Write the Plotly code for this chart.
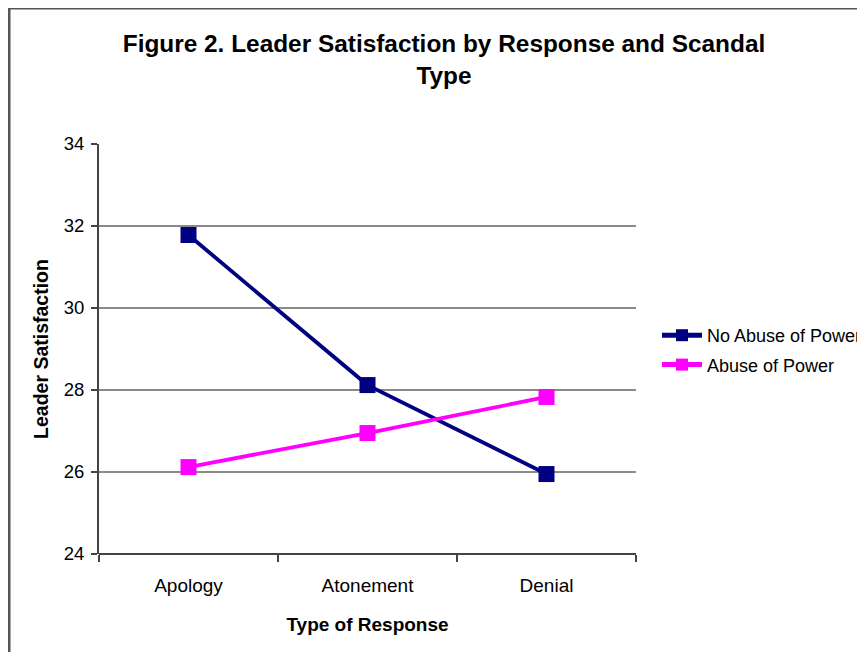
import plotly.graph_objects as go

categories = ["Apology", "Atonement", "Denial"]
no_abuse = [31.78, 28.12, 25.95]
abuse = [26.12, 26.95, 27.83]
y_ticks = [24, 26, 28, 30, 32, 34]

W, H = 865, 652
O = 8  # page body offset
L, R, T, B = 99 - O, 636 - O, 144 - O, 554 - O

font = "Liberation Sans, Arial, sans-serif"

fig = go.Figure()
fig.add_trace(go.Scatter(x=categories, y=no_abuse, mode="lines+markers", name="No Abuse of Power",
                         legendgroup="a",
                         line=dict(color="#000080", width=3.8),
                         marker=dict(symbol="square", size=16, color="#000080")))
fig.add_trace(go.Scatter(x=categories, y=abuse, mode="lines+markers", name="Abuse of Power",
                         legendgroup="b",
                         line=dict(color="#FF00FF", width=3.8),
                         marker=dict(symbol="square", size=16, color="#FF00FF")))

def px_x(p):
    return (p - O - L) / (R - L)

def px_y(p):
    return (B - (p - O)) / (B - T)

fig.update_layout(
    width=W, height=H,
    margin=dict(l=L, r=W - R, t=T, b=H - B, autoexpand=False),
    paper_bgcolor="white", plot_bgcolor="white",
    font=dict(family=font, color="black", size=18),
    title=dict(text="<b>Figure 2. Leader Satisfaction by Response and Scandal<br>Type</b>",
               x=(444 - O) / W, xanchor="center", xref="container",
               y=1 - 44 / H, yanchor="top", yref="container",
               font=dict(size=24.4, family=font, color="black")),
    showlegend=True,
    legend=dict(x=px_x(657), y=px_y(317), xanchor="left", yanchor="top",
                font=dict(size=18, family=font, color="black"),
                bgcolor="rgba(0,0,0,0)", tracegroupgap=3, itemwidth=40,
                itemsizing="constant"),
    xaxis=dict(type="category", categoryorder="array", categoryarray=categories,
               range=[-0.5, 2.5], showgrid=False, showline=False,
               ticks="outside", tickson="boundaries", ticklen=7, tickwidth=2, tickcolor="#444",
               ticklabelstandoff=18,
               tickfont=dict(size=19, family=font),
               title=dict(text="<b>Type of Response</b>", font=dict(size=19, family=font), standoff=22),
               zeroline=False),
    yaxis=dict(range=[24, 34], tickvals=y_ticks, showgrid=True, gridcolor="#8a8a8a", gridwidth=2,
               showline=True, linecolor="#444", linewidth=2,
               ticks="outside", ticklen=6, tickwidth=2, tickcolor="#444",
               ticklabelstandoff=3,
               tickfont=dict(size=18.5, family=font),
               title=dict(text="<b>Leader Satisfaction</b>", font=dict(size=19.5, family=font), standoff=10),
               zeroline=False),
)

# bottom axis line (24 gridline look)
fig.add_shape(type="line", xref="paper", yref="paper", x0=0, x1=1, y0=0, y1=0,
              line=dict(color="#444", width=2), layer="below")
# outer chart frame
fig.add_shape(type="rect", xref="paper", yref="paper",
              x0=px_x(9), x1=px_x(900), y0=px_y(700), y1=px_y(8),
              line=dict(color="#555", width=3), fillcolor="rgba(0,0,0,0)", layer="below")

fig.write_html("out.html")
